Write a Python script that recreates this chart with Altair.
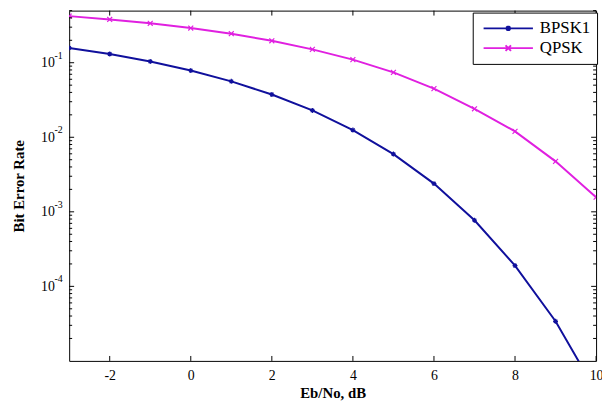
import altair as alt
import pandas as pd

# ---- data ----
ebno = [-3, -2, -1, 0, 1, 2, 3, 4, 5, 6, 7, 8, 9, 10]
bpsk1 = [0.158, 0.131, 0.104, 0.0786, 0.0563, 0.0375, 0.0229, 0.0125,
         0.00595, 0.00239, 0.00077, 0.00019, 0.000034, 0.0000039]
qpsk = [0.422, 0.381, 0.338, 0.292, 0.245, 0.197, 0.151, 0.110,
        0.0743, 0.0450, 0.0241, 0.0120, 0.00475, 0.00157]
series_names = ["BPSK1", "QPSK"]
series_colors = ["#10109c", "#e020e0"]

x_ticks = [-2, 0, 2, 4, 6, 8, 10]
y_major = [1e-1, 1e-2, 1e-3, 1e-4]
y_exp = ["-1", "-2", "-3", "-4"]
y_minor = [m * 10.0 ** k for k in range(-5, 0) for m in range(2, 10) if m * 10.0 ** k <= 0.5]

W, H = 534, 355
FONT = "Liberation Serif"

df = pd.DataFrame({
    "ebno": ebno + ebno,
    "ber": bpsk1 + qpsk,
    "series": [series_names[0]] * len(ebno) + [series_names[1]] * len(ebno),
})
xt = pd.DataFrame({"ebno": x_ticks})
ymaj = pd.DataFrame({"ber": y_major, "t": y_exp})
ymin = pd.DataFrame({"ber": y_minor})

xscale = alt.Scale(domain=[-3, 10], nice=False, zero=False)
yscale = alt.Scale(type="log", domain=[1e-5, 0.5], nice=False)

xaxis = alt.Axis(
    values=x_ticks, labelExpr="'' + datum.value", ticks=False, domain=False, grid=False,
    labelFont=FONT, labelFontSize=14, labelColor="black", labelPadding=8,
    labelFlush=False, labelOverlap=False,
    title="Eb/No, dB", titleFont=FONT, titleFontSize=15, titleFontWeight="bold",
    titleColor="black", titlePadding=3)
yaxis = alt.Axis(
    values=y_major, labelExpr="'10'", ticks=False, domain=False, grid=False,
    labelFont=FONT, labelFontSize=14, labelColor="black", labelPadding=15,
    labelOverlap=False,
    title="Bit Error Rate", titleFont=FONT, titleFontSize=15, titleFontWeight="bold",
    titleColor="black", titlePadding=14)

X = alt.X("ebno:Q", scale=xscale, axis=xaxis)
Y = alt.Y("ber:Q", scale=yscale, axis=yaxis)

marker_paths = [
    "M0,-1L0,1M-1,0L1,0M-0.7,-0.7L0.7,0.7M-0.7,0.7L0.7,-0.7",
    "M-1,-1L1,1M-1,1L1,-1",
]
legend_paths = [
    "M-1,0L1,0M0,-0.11L0,0.11M-0.11,0L0.11,0M-0.08,-0.08L0.08,0.08M-0.08,0.08L0.08,-0.08",
    "M-1,0L1,0M-0.11,-0.11L0.11,0.11M-0.11,0.11L0.11,-0.11",
]
cscale = alt.Scale(domain=series_names, range=series_colors)

base = alt.Chart(df)

lines = base.mark_line(clip=True, strokeWidth=2).encode(
    x=X, y=Y, color=alt.Color("series:N", scale=cscale, legend=None))

points = base.mark_point(clip=True, filled=False, size=25, strokeWidth=1.2, opacity=1).encode(
    x=X, y=Y,
    color=alt.Color("series:N", scale=cscale, legend=None),
    shape=alt.Shape("series:N", scale=alt.Scale(domain=series_names, range=marker_paths), legend=None))

leg = alt.Legend(title=None, orient="none", legendX=409, legendY=2,
                 symbolSize=2500, symbolStrokeWidth=2, symbolOpacity=1, symbolOffset=4,
                 clipHeight=20,
                 labelFont=FONT, labelFontSize=17, labelColor="black", labelOffset=6,
                 strokeColor="black", fillColor="white", padding=6, rowPadding=-1)
legend_layer = base.mark_point(clip=True, filled=False, opacity=0).encode(
    x=X, y=Y,
    color=alt.Color("series:N", scale=cscale, legend=leg),
    shape=alt.Shape("series:N", scale=alt.Scale(domain=series_names, range=legend_paths), legend=leg))

sup = alt.Chart(ymaj).mark_text(align="left", baseline="middle", dy=-7, font=FONT,
                                fontSize=10, color="black").encode(
    x=alt.value(-15), y=Y, text="t:N")

tick_style = dict(color="black", strokeWidth=1)
yl_major = alt.Chart(ymaj).mark_rule(**tick_style).encode(y=Y, x=alt.value(0), x2=alt.value(5))
yr_major = alt.Chart(ymaj).mark_rule(**tick_style).encode(y=Y, x=alt.value(W - 5), x2=alt.value(W))
yl_minor = alt.Chart(ymin).mark_rule(**tick_style).encode(y=Y, x=alt.value(0), x2=alt.value(3))
yr_minor = alt.Chart(ymin).mark_rule(**tick_style).encode(y=Y, x=alt.value(W - 3), x2=alt.value(W))
xb = alt.Chart(xt).mark_rule(**tick_style).encode(x=X, y=alt.value(H - 5), y2=alt.value(H))
xtop = alt.Chart(xt).mark_rule(**tick_style).encode(x=X, y=alt.value(0), y2=alt.value(5))

chart = alt.layer(
    lines, points, legend_layer, sup, yl_major, yr_major, yl_minor, yr_minor, xb, xtop
).resolve_scale(shape="independent", color="independent").properties(
    width=W, height=H,
    autosize=alt.AutoSizeParams(type="none"),
    padding={"left": 62, "top": 0, "right": 6, "bottom": 40},
    background="white",
).configure_view(stroke="black", strokeWidth=1)

chart.save("out.html", embed_options={"renderer": "svg", "actions": False})
